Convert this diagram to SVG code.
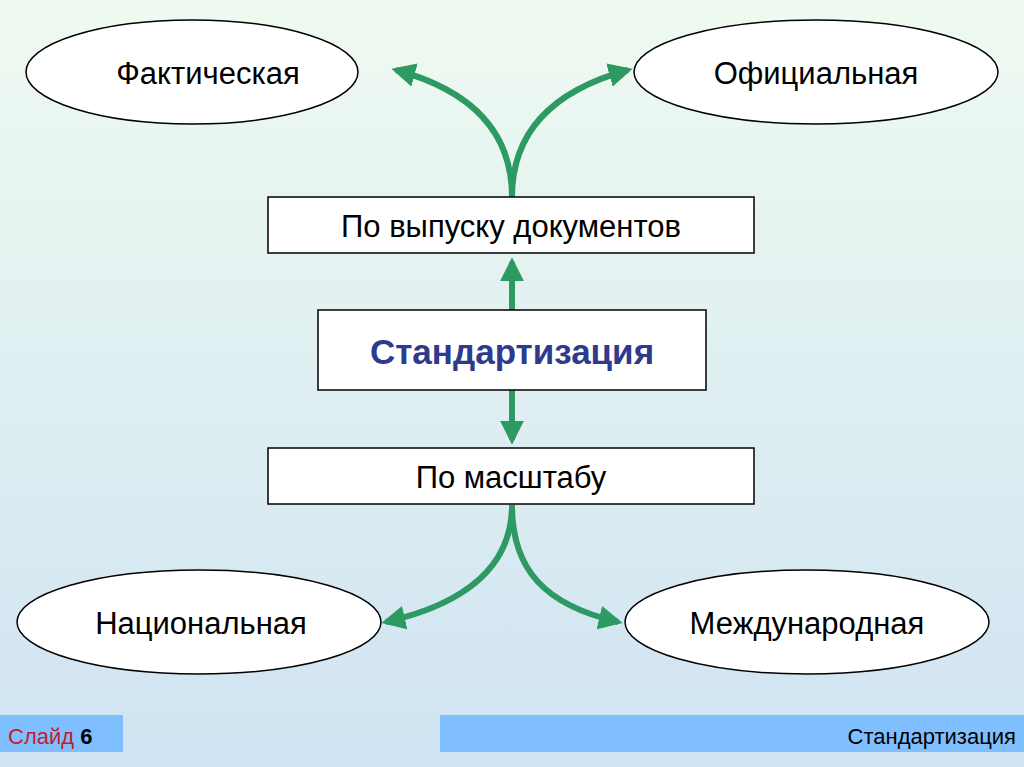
<svg xmlns="http://www.w3.org/2000/svg" width="1024" height="767" viewBox="0 0 1024 767">
<defs>
<linearGradient id="bg" x1="0" y1="0" x2="0" y2="1"><stop offset="0" stop-color="#effaf0"/><stop offset="1" stop-color="#cfe3f2"/></linearGradient>
<marker id="ah" viewBox="0 0 10 10" refX="8" refY="5" markerWidth="4" markerHeight="4" orient="auto" markerUnits="strokeWidth"><path d="M0,0 L10,5 L0,10 z" fill="#2e9a63"/></marker>
<style>
.n{fill:#fff;stroke:#000;stroke-width:1.5}
.t{font-family:"Liberation Sans",Arial,sans-serif;font-size:31px;text-anchor:middle;fill:#000}
.c path{fill:none;stroke:#2e9a63;stroke-width:6;marker-end:url(#ah)}
</style>
</defs>
<rect width="1024" height="767" fill="url(#bg)"/>
<g class="c" id="connectors">
<path d="M512,197 C512,130 470,90 396,70"/>
<path d="M512,197 C512,130 555,90 628,70"/>
<path d="M512,310 L512,262"/>
<path d="M512,390 L512,440"/>
<path d="M512,505 C512,570 460,605 386,622"/>
<path d="M512,505 C512,570 545,605 618,622"/>
</g>
<g id="fact"><ellipse class="n" cx="192" cy="72" rx="166" ry="52"/><text class="t" x="208" y="84">Фактическая</text></g>
<g id="ofic"><ellipse class="n" cx="816" cy="72" rx="182" ry="52"/><text class="t" x="816" y="84">Официальная</text></g>
<g id="vypusk"><rect class="n" x="268" y="197" width="486" height="56"/><text class="t" x="511" y="237">По выпуску документов</text></g>
<g id="std"><rect class="n" x="318" y="310" width="388" height="80"/><text class="t" x="512" y="364" style="font-weight:bold;font-size:35px;fill:#2e3a8c">Стандартизация</text></g>
<g id="masht"><rect class="n" x="268" y="448" width="486" height="56"/><text class="t" x="511" y="488">По масштабу</text></g>
<g id="nac"><ellipse class="n" cx="199" cy="622" rx="182" ry="52"/><text class="t" x="201" y="634">Национальная</text></g>
<g id="mezh"><ellipse class="n" cx="807" cy="622" rx="182" ry="52"/><text class="t" x="807" y="634">Международная</text></g>
<g id="footer">
<rect x="0" y="715" width="123" height="37" fill="#80bfff"/>
<rect x="440" y="715" width="584" height="37" fill="#80bfff"/>
<text x="8" y="744" style="font-family:'Liberation Sans',Arial,sans-serif;font-size:22px;fill:#c0202a">Слайд <tspan style="font-weight:bold;fill:#000">6</tspan></text>
<text x="1016" y="744" style="font-family:'Liberation Sans',Arial,sans-serif;font-size:22px;text-anchor:end;fill:#000">Стандартизация</text>
</g>
</svg>
